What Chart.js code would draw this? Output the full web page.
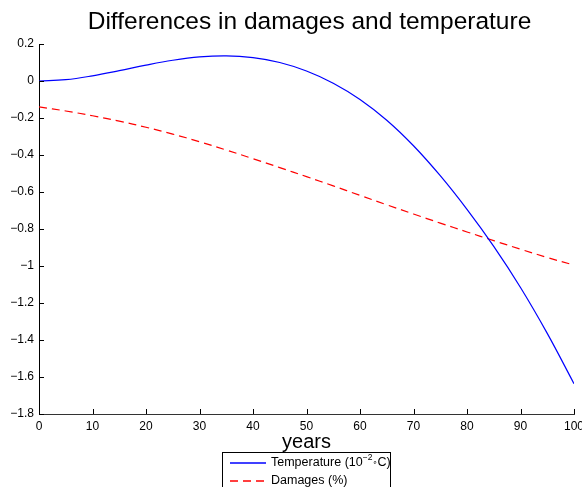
<!DOCTYPE html>
<html>
<head>
<meta charset="utf-8">
<script src="https://cdn.jsdelivr.net/npm/chart.js@4.4.1/dist/chart.umd.min.js"></script>
<style>
  html, body { margin: 0; padding: 0; background: #fff; overflow: hidden; }
  #wrap { position: relative; width: 620px; height: 487px; }
</style>
</head>
<body>
<div id="wrap"><canvas id="chart"></canvas></div>
<script>
// simulation years
const years = [0, 5, 10, 15, 20, 25, 30, 35, 40, 45, 50, 55, 60, 65, 70, 75, 80, 85, 90, 95, 100];
// temperature difference (10^-2 degC)
const temperature = [0, 0.007, 0.028, 0.056, 0.086, 0.112, 0.130, 0.136, 0.126, 0.100, 0.054, -0.012, -0.100,
  -0.212, -0.350, -0.512, -0.694, -0.894, -1.116, -1.364, -1.636];
// damages difference (%)
const damages = [-0.14, -0.162, -0.188, -0.217, -0.250, -0.287, -0.328, -0.373, -0.420, -0.468, -0.517,
  -0.567, -0.618, -0.669, -0.719, -0.768, -0.816, -0.863, -0.909, -0.954, -0.995];

const xTicks = [0, 10, 20, 30, 40, 50, 60, 70, 80, 90, 100];
const yTicks = [-1.8, -1.6, -1.4, -1.2, -1, -0.8, -0.6, -0.4, -0.2, 0, 0.2];

const TITLE = 'Differences in damages and temperature';
const TEMP_COLOR = 'rgb(0, 0, 255)';
const DMG_COLOR = 'rgb(255, 0, 0)';
const DMG_DASH = [8, 5];
const FONT = "'Liberation Sans', Arial, Helvetica, sans-serif";

const fmt = v => {
  const r = Math.round(v * 10) / 10;
  return r === 0 ? '0' : String(r).replace('-', '\u2212');
};

// title centred over the axes box
const axesTitle = {
  id: 'axesTitle',
  afterDraw(chart) {
    const { ctx, chartArea: a } = chart;
    ctx.save();
    ctx.fillStyle = '#000';
    ctx.font = '24.5px ' + FONT;
    ctx.textAlign = 'center';
    ctx.textBaseline = 'middle';
    ctx.fillText(TITLE, (a.left + a.right) / 2 + 3, a.top - 22);
    ctx.restore();
  }
};

// inward tick marks, matlab style
const innerTicks = {
  id: 'innerTicks',
  afterDraw(chart) {
    const { ctx, chartArea: a, scales: { x, y } } = chart;
    ctx.save();
    ctx.strokeStyle = '#000';
    ctx.lineWidth = 1;
    ctx.beginPath();
    xTicks.forEach(v => {
      const px = Math.round(x.getPixelForValue(v)) + 0.5;
      ctx.moveTo(px, a.bottom);
      ctx.lineTo(px, a.bottom - 5);
    });
    yTicks.forEach(v => {
      const py = Math.round(y.getPixelForValue(v)) + 0.5;
      ctx.moveTo(a.left, py);
      ctx.lineTo(a.left + 5, py);
    });
    ctx.stroke();
    ctx.restore();
  }
};

// boxed legend under the axis label
const boxLegend = {
  id: 'boxLegend',
  afterDraw(chart) {
    const ctx = chart.ctx;
    const left = 222.5, top = 452.5, w = 168;
    ctx.save();
    ctx.fillStyle = '#fff';
    ctx.fillRect(left, top, w, 60);
    ctx.strokeStyle = '#000';
    ctx.lineWidth = 1;
    ctx.strokeRect(left, top, w, 60);

    const rows = [
      { color: TEMP_COLOR, dash: [], y: 463 },
      { color: DMG_COLOR, dash: DMG_DASH, y: 481 }
    ];
    for (const r of rows) {
      ctx.save();
      ctx.beginPath();
      ctx.setLineDash(r.dash);
      ctx.lineWidth = 1.4;
      ctx.strokeStyle = r.color;
      ctx.moveTo(230, r.y);
      ctx.lineTo(266, r.y);
      ctx.stroke();
      ctx.restore();
    }

    ctx.fillStyle = '#000';
    ctx.textBaseline = 'middle';
    ctx.textAlign = 'left';
    ctx.font = '12.5px ' + FONT;
    let tx = 271;
    const t1 = 'Temperature (10';
    ctx.fillText(t1, tx, rows[0].y);
    tx += ctx.measureText(t1).width;
    ctx.font = '8.5px ' + FONT;
    ctx.fillText('\u22122', tx, rows[0].y - 5);
    tx += ctx.measureText('\u22122').width;
    ctx.font = '8px DejaVu Sans';
    ctx.fillText('\u2218', tx, rows[0].y);
    tx += ctx.measureText('\u2218').width;
    ctx.font = '12.5px ' + FONT;
    ctx.fillText('C)', tx, rows[0].y);
    ctx.fillText('Damages (%)', 271, rows[1].y);
    ctx.restore();
  }
};

new Chart(document.getElementById('chart'), {
  type: 'line',
  data: {
    datasets: [
      {
        label: 'Temperature',
        data: years.map((yr, i) => ({ x: yr, y: temperature[i] })),
        borderColor: TEMP_COLOR,
        borderWidth: 1.2,
        pointRadius: 0,
        tension: 0.4,
        fill: false
      },
      {
        label: 'Damages (%)',
        data: years.map((yr, i) => ({ x: yr, y: damages[i] })),
        borderColor: DMG_COLOR,
        borderWidth: 1.2,
        borderDash: DMG_DASH,
        pointRadius: 0,
        tension: 0.4,
        fill: false
      }
    ]
  },
  options: {
    responsive: true,
    maintainAspectRatio: false,
    animation: false,
    layout: { padding: { left: 0, right: 46, top: 44, bottom: 33 } },
    plugins: {
      legend: { display: false },
      tooltip: { enabled: false },
      title: { display: false }
    },
    scales: {
      x: {
        type: 'linear',
        min: 0,
        max: 100,
        afterBuildTicks: s => { s.ticks = xTicks.map(v => ({ value: v })); },
        afterFit: s => { s.height = 40; },
        grid: { display: false, drawTicks: false },
        border: { display: true, color: '#333', width: 1 },
        ticks: {
          color: '#000',
          padding: 5,
          maxRotation: 0,
          autoSkip: false,
          font: { family: FONT, size: 12 },
          callback: v => fmt(v)
        },
        title: {
          display: true,
          text: 'years',
          color: '#000',
          font: { family: FONT, size: 20 },
          padding: 0
        }
      },
      y: {
        type: 'linear',
        min: -1.8,
        max: 0.2,
        afterBuildTicks: s => { s.ticks = yTicks.map(v => ({ value: v })); },
        afterFit: s => { s.width = 39; },
        grid: { display: false, drawTicks: false },
        border: { display: true, color: '#000', width: 1 },
        ticks: {
          color: '#000',
          padding: 5,
          autoSkip: false,
          font: { family: FONT, size: 12 },
          callback: v => fmt(v)
        }
      }
    }
  },
  plugins: [axesTitle, innerTicks, boxLegend]
});
</script>
</body>
</html>
